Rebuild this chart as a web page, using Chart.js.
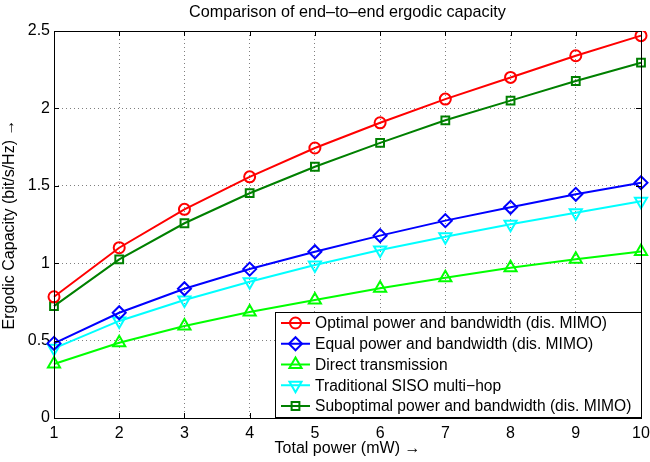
<!DOCTYPE html>
<html>
<head>
<meta charset="utf-8">
<script src="https://cdn.jsdelivr.net/npm/chart.js@4/dist/chart.umd.min.js"></script>
<style>
  html, body { margin: 0; padding: 0; background: #fff; }
  #wrap { width: 650px; height: 462px; }
</style>
</head>
<body>
<div id="wrap"><canvas id="chart"></canvas></div>
<script>
// Dados
const powers = [1, 2, 3, 4, 5, 6, 7, 8, 9, 10];
const optimal = [0.783, 1.10, 1.348, 1.558, 1.744, 1.907, 2.06, 2.20, 2.34, 2.47];
const equal = [0.482, 0.68, 0.835, 0.962, 1.074, 1.178, 1.275, 1.361, 1.445, 1.52];
const direct = [0.349, 0.486, 0.594, 0.685, 0.762, 0.838, 0.906, 0.971, 1.025, 1.075];
const siso = [0.45, 0.627, 0.762, 0.88, 0.988, 1.085, 1.171, 1.251, 1.326, 1.40];
const suboptimal = [0.723, 1.025, 1.258, 1.452, 1.623, 1.777, 1.923, 2.05, 2.177, 2.295];
const yTicks = [0, 0.5, 1, 1.5, 2, 2.5];

const FONT = "'Liberation Sans', Arial, Helvetica, sans-serif";

function series(label, data, color, style, radius, rotation) {
  return {
    label: label,
    data: data,
    borderColor: color,
    backgroundColor: color,
    borderWidth: 2,
    pointStyle: style,
    pointRadius: radius,
    pointHoverRadius: radius,
    pointRotation: rotation || 0,
    pointBorderColor: color,
    pointBackgroundColor: "rgba(0,0,0,0)",
    pointBorderWidth: 2,
    tension: 0,
    fill: false,
  };
}

const datasets = [
  series("Optimal power and bandwidth (dis. MIMO)", optimal, "#ff0000", "circle", 5.5),
  series("Equal power and bandwidth (dis. MIMO)", equal, "#0000ff", "rectRot", 6.5),
  series("Direct transmission", direct, "#00ff00", "triangle", 7),
  series("Traditional SISO multi\u2212hop", siso, "#00ffff", "triangle", 7, 180),
  series("Suboptimal power and bandwidth (dis. MIMO)", suboptimal, "#008000", "rect", 5.5),
];

// Título, moldura, marcas internas e legenda dentro do gráfico
const decorations = {
  id: "decorations",
  afterDraw(chart) {
    const ctx = chart.ctx;
    const area = chart.chartArea;
    const xs = chart.scales.x;
    const ys = chart.scales.y;
    ctx.save();

    // título
    ctx.fillStyle = "#000";
    ctx.font = "16.2px " + FONT;
    ctx.textAlign = "center";
    ctx.textBaseline = "middle";
    ctx.fillText("Comparison of end\u2013to\u2013end ergodic capacity", (area.left + area.right) / 2, 13);

    // marcas para dentro
    ctx.strokeStyle = "#000";
    ctx.lineWidth = 1;
    ctx.beginPath();
    xs.ticks.forEach((t, i) => {
      const px = Math.round(xs.getPixelForTick(i)) + 0.5;
      ctx.moveTo(px, area.bottom);
      ctx.lineTo(px, area.bottom - 5);
      ctx.moveTo(px, area.top);
      ctx.lineTo(px, area.top + 5);
    });
    ys.ticks.forEach((t) => {
      const py = Math.round(ys.getPixelForValue(t.value)) + 0.5;
      ctx.moveTo(area.left, py);
      ctx.lineTo(area.left + 5, py);
      ctx.moveTo(area.right, py);
      ctx.lineTo(area.right - 5, py);
    });
    ctx.stroke();

    // moldura
    ctx.strokeRect(Math.round(area.left) + 0.5, Math.round(area.top) + 0.5,
      Math.round(area.right - area.left), Math.round(area.bottom - area.top));

    // legenda
    ctx.font = "15.6px " + FONT;
    let maxW = 0;
    chart.data.datasets.forEach((ds) => {
      maxW = Math.max(maxW, ctx.measureText(ds.label).width);
    });
    const rowH = 20.75;
    const n = chart.data.datasets.length;
    const boxW = Math.ceil(maxW + 49);
    const boxH = Math.round(rowH * (n - 1) + 22);
    const bx = Math.round(area.right) - boxW;
    const by = Math.round(area.bottom) - 1 - boxH;
    ctx.fillStyle = "#fff";
    ctx.fillRect(bx, by, boxW, boxH);
    ctx.strokeStyle = "#000";
    ctx.strokeRect(bx + 0.5, by + 0.5, boxW, boxH);

    chart.data.datasets.forEach((ds, i) => {
      const cy = by + 11 + i * rowH;
      ctx.strokeStyle = ds.borderColor;
      ctx.lineWidth = 2;
      ctx.beginPath();
      ctx.moveTo(bx + 6, cy);
      ctx.lineTo(bx + 35, cy);
      ctx.stroke();
      ctx.fillStyle = "rgba(0,0,0,0)";
      Chart.helpers.drawPoint(ctx, {
        pointStyle: ds.pointStyle,
        rotation: ds.pointRotation,
        radius: ds.pointRadius,
        borderWidth: 2,
      }, bx + 20.5, cy);
      ctx.fillStyle = "#000";
      ctx.textAlign = "left";
      ctx.textBaseline = "middle";
      ctx.fillText(ds.label, bx + 40, cy + 1);
    });
    ctx.restore();
  },
};

new Chart(document.getElementById("chart"), {
  type: "line",
  data: {
    labels: powers,
    datasets: datasets,
  },
  options: {
    responsive: true,
    maintainAspectRatio: false,
    animation: false,
    layout: {
      padding: { top: 31, right: 9, left: 0, bottom: 0 },
    },
    plugins: {
      legend: { display: false },
      title: { display: false },
      tooltip: { enabled: false },
    },
    scales: {
      x: {
        type: "category",
        offset: false,
        afterFit: (scale) => {
          scale.height = 44;
          scale.paddingLeft = 0;
          scale.paddingRight = 0;
        },
        grid: { color: "rgba(0,0,0,0.5)", drawTicks: false, lineWidth: 1 },
        border: { display: false, dash: [1, 3] },
        ticks: { color: "#000", padding: 6, font: { family: FONT, size: 16 }, maxRotation: 0 },
        title: {
          display: true,
          text: "Total power (mW) \u2192",
          color: "#000",
          font: { family: FONT, size: 16 },
          padding: { top: 0, bottom: 4 },
        },
      },
      y: {
        min: 0,
        max: 2.5,
        afterFit: (scale) => {
          scale.width = 54;
          scale.paddingTop = 0;
          scale.paddingBottom = 0;
        },
        afterBuildTicks: (scale) => { scale.ticks = yTicks.map((v) => ({ value: v })); },
        grid: { color: "rgba(0,0,0,0.5)", drawTicks: false, lineWidth: 1 },
        border: { display: false, dash: [1, 3] },
        ticks: {
          color: "#000",
          padding: 4,
          font: { family: FONT, size: 16 },
          callback: (v) => String(v),
        },
        title: {
          display: true,
          text: "Ergodic Capacity (bit/s/Hz) \u2192",
          color: "#000",
          font: { family: FONT, size: 16 },
          padding: { top: 0, bottom: 0 },
        },
      },
    },
  },
  plugins: [decorations],
});
</script>
</body>
</html>
